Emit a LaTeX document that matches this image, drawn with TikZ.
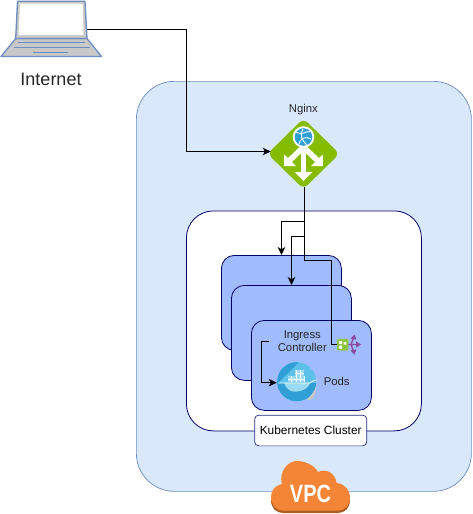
\documentclass[tikz,border=0pt]{standalone}
\usepackage{fontspec}
\setmainfont{Liberation Sans}
\usetikzlibrary{arrows.meta}
\definecolor{vpcfill}{HTML}{DAE8FC}
\definecolor{vpcline}{HTML}{6C8EBF}
\definecolor{navyline}{HTML}{000066}
\definecolor{podfill}{HTML}{A0BCFC}
\definecolor{lapblue}{HTML}{6C8EC0}
\definecolor{lapgrey}{HTML}{C8C8C8}
\definecolor{nggreen}{HTML}{85BC00}
\definecolor{awsor}{HTML}{F58536}
\definecolor{awsdk}{HTML}{AD5F27}
\definecolor{dockblue}{HTML}{2F9FD6}
\definecolor{docklight}{HTML}{5CC0E8}
\definecolor{dockpale}{HTML}{9ADAF2}
\definecolor{purp}{HTML}{8A4A9E}
\definecolor{sqgreen}{HTML}{8CC43C}
\tikzset{
  x=1pt,y=-1pt,
  conn/.style={draw=black,line width=0.9pt,-{Stealth[length=8pt,width=7.5pt,inset=2.2pt]}},
  plainconn/.style={draw=black,line width=0.9pt},
  podbox/.style={draw=navyline,line width=0.8pt,fill=podfill,rounded corners=13pt,minimum width=120pt,anchor=north west,inner sep=0pt},
  lbl/.style={font=\fontsize{11.3pt}{13.4pt}\selectfont,inner sep=0pt,align=center,text=black!85},
}
\begin{document}
\begin{tikzpicture}
\useasboundingbox (0,0) rectangle (472,514);
% containers
\node[draw=vpcline,line width=0.7pt,fill=vpcfill,rounded corners=38pt,minimum width=335pt,minimum height=410pt,anchor=north west,inner sep=0pt] (vpc) at (136,81) {};
\node[draw=navyline,line width=0.8pt,fill=white,rounded corners=27pt,minimum width=235pt,minimum height=220pt,anchor=north west,inner sep=0pt] (k8s) at (186,210.5) {};
\node[podbox,minimum height=95pt] (pa) at (221,255) {};
\node[podbox,minimum height=95pt] (pb) at (231,285) {};
\node[podbox,minimum height=90pt] (pc) at (251,320) {};
% laptop
\begin{scope}[line join=round]
\fill[lapgrey,draw=lapblue,line width=1.3pt] (15.7,38.5) -- (87,38.5) -- (101.5,56.5) -- (1,56.5) -- cycle;
\fill[lapgrey,draw=lapblue,line width=1.3pt] (17.5,1.2) -- (85,1.2) -- (87,38.5) -- (15.7,38.5) -- cycle;
\fill[white] (20,3.5) -- (82.7,3.5) -- (83.5,35) -- (18.5,35) -- cycle;
\draw[lapblue,line width=1.2pt] (18,42.7) -- (85,42.7) (14,47.7) -- (89.5,47.7) (33,52.3) -- (68,52.3);
\end{scope}
\coordinate (lapr) at (87,29.5);
\node[font=\fontsize{18pt}{20pt}\selectfont,inner sep=0pt,text=black!85] (inet) at (51,79) {Internet};
% nginx icon
\fill[nggreen,rounded corners=6pt] (303.5,118.5) -- (339.5,153.7) -- (303.5,189) -- (267.5,153.7) -- cycle;
\fill[white!10!nggreen,opacity=0.25] (275,160) -- (303.5,160) -- (303.5,186) -- cycle;
% nginx arrows
\draw[white,line width=5.5pt] (303.5,147) -- (303.5,174);
\draw[white,line width=5.5pt] (303.5,147) -- (289,161);
\draw[white,line width=5.5pt] (303.5,147) -- (318,161);
\fill[white] (294.7,172) -- (312.3,172) -- (303.5,181) -- cycle;
\fill[white] (284.2,154.5) -- (284.2,166) -- (296,166) -- cycle;
\fill[white] (322.8,154.5) -- (322.8,166) -- (311,166) -- cycle;
\fill[white] (303.5,137) circle (10.8);
\fill[dockblue] (303.5,137) circle (8.8);
\draw[white,line width=0.9pt] (296,132) .. controls (301,136) and (306,131) .. (310,131.5) (299,144) .. controls (300,138) and (306,136) .. (311,139) (303,129) .. controls (299,134) and (302,141) .. (307,145);
\node[lbl] (nglabel) at (303.3,110) {Nginx};
\coordinate (ngl) at (270.7,151.5);
\coordinate (ngb) at (304.5,186.5);
% internet -> nginx
\path[conn] (lapr) -| (186.5,151.5) -- (ngl);
% nginx -> pods
\path[plainconn] (ngb) -- (304.5,260.5) -- (331.5,260.5) -- (331.5,344.5) -- (337,344.5);
\coordinate (ja) at (304.5,221.5);
\coordinate (jb) at (304.5,236.5);
\path[conn] (ja) -- (281.5,221.5) -- (281.5,255);
\path[conn] (jb) -- (291.5,236.5) -- (291.5,285);
% ingress controller
\node[lbl] (ing) at (302.3,341) {Ingress\\Controller};
% ingress icon
\fill[sqgreen,rounded corners=1pt] (337,339) rectangle (348.3,350.3);
\fill[white] (339,341) rectangle (342,344) (343.7,342) rectangle (346.3,344.6) (339,345.5) rectangle (342,348.5);
\draw[purp,line width=1.3pt] (348.3,344.5) -- (358,344.5) (351,344.5) -- (353.5,338) (351,344.5) -- (353.5,351);
\fill[purp] (361,344.5) -- (356,341.3) -- (356,347.7) -- cycle (354.5,334.5) -- (350.5,338.5) -- (356.5,339.7) -- cycle (354.5,354.5) -- (350.5,350.5) -- (356.5,349.3) -- cycle;
% docker icon
\fill[docklight] (296.7,381.7) circle (19.5);
\begin{scope}
\clip (296.7,381.7) circle (19.5);
\fill[dockblue] (276,383) rectangle (318,402);
\fill[dockblue] (276,361) -- (300,361) -- (278,383) -- (276,383) -- cycle;
\end{scope}
\fill[dockpale] (284,383) -- (310,383) .. controls (308,390) and (298,393) .. (291,391) .. controls (287,389) and (285,386) .. (284,383) -- cycle;
\fill[dockpale] (288,376) rectangle (305,382);
\fill[dockpale] (295,370) rectangle (304,376);
\draw[white,line width=0.4pt] (291,376) -- (291,382) (296,370) -- (296,382) (300,370) -- (300,382) (304,376) -- (304,382) (288,379) -- (305,379) (295,373) -- (304,373);
\draw[white,line width=0.7pt] (278,383) -- (310,383) .. controls (312,381) and (314,380) .. (317,380);
\fill[lapgrey] (316.5,386) .. controls (314,392) and (311,396) .. (307,399.5) .. controls (311,402) and (315,398) .. (316.5,386) -- cycle;
\coordinate (dl) at (276.7,382.7);
\node[lbl] (pods) at (336.7,381) {Pods};
\coordinate (ingl) at (269,341);
\path[conn] (ingl) -- (261.5,341) -- (261.5,382.7) -- (dl);
% kubernetes label
\node[draw=navyline!70!vpcline,line width=0.7pt,fill=white,rounded corners=4pt,minimum width=112pt,minimum height=30.7pt,inner sep=0pt,font=\fontsize{11.9pt}{13pt}\selectfont] (klabel) at (310.7,430.5) {Kubernetes Cluster};
% VPC cloud
\fill[awsdk] (283,513) .. controls (276,513) and (271,508) .. (271,500) -- (350,500) .. controls (350,508) and (345,513) .. (338,513) -- cycle;
\fill[awsor] (283,510.5) .. controls (275,510.5) and (271,504) .. (271,497) .. controls (271,490) and (275,486) .. (281.7,484) .. controls (279,471) and (288,461) .. (297,461) .. controls (305,461) and (314,465) .. (318,472) .. controls (326,468) and (335,473) .. (336.7,483) .. controls (345,484) and (350,490) .. (350,498) .. controls (350,504) and (346,510.5) .. (338,510.5) -- cycle;
\node[font=\bfseries\fontsize{25pt}{26pt}\selectfont,text=white,inner sep=0pt,xscale=0.8] (vpctxt) at (310.5,494) {VPC};
\end{tikzpicture}
\end{document}
